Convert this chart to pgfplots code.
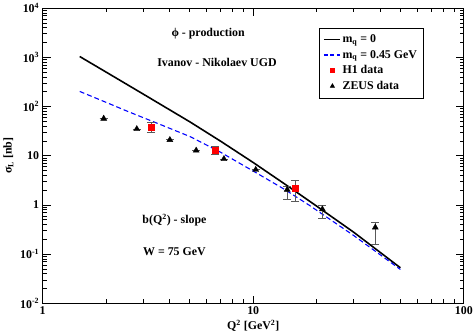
\documentclass[border=0pt]{standalone}
\usepackage{fontspec}
\setmainfont{Liberation Serif}
\usepackage{pgfplots}
\pgfplotsset{compat=1.18}

\begin{document}
\begin{tikzpicture}[font=\bfseries\fontsize{12}{14}\selectfont]
\begin{axis}[
    width=425pt, height=298pt, scale only axis,
    xmode=log, ymode=log,
    xmin=1, xmax=100, ymin=0.01, ymax=10000,
    xtick={1,10,100}, xticklabels={1,10,100},
    minor xtick={2,3,4,5,6,7,8,9,20,30,40,50,60,70,80,90},
    ytick={0.01,0.1,1,10,100,1000,10000},
    yticklabels={10\textsuperscript{-2},10\textsuperscript{-1},1,10,10\textsuperscript{2},10\textsuperscript{3},10\textsuperscript{4}},
    minor ytick={0.02,0.03,0.04,0.05,0.06,0.07,0.08,0.09,
                 0.2,0.3,0.4,0.5,0.6,0.7,0.8,0.9,
                 2,3,4,5,6,7,8,9,20,30,40,50,60,70,80,90,
                 200,300,400,500,600,700,800,900,
                 2000,3000,4000,5000,6000,7000,8000,9000},
    tick align=inside,
    major tick length=8pt, minor tick length=4pt,
    axis line style={line width=1.2pt},
    every tick/.style={black, line width=0.8pt},
    xlabel={Q\textsuperscript{2} [GeV\textsuperscript{2}]},
    ylabel={σ\textsubscript{L} [nb]},
    xlabel style={yshift=2pt},
    legend style={at={(rel axis cs:0.904,0.934)}, anchor=north east,
        draw=black, line width=0.8pt, inner xsep=4pt, inner ysep=5pt,
        row sep=2pt, font=\bfseries\fontsize{12}{14}\selectfont},
    legend cell align=left,
    clip=false,
]
\addplot[black, line width=1.6pt,
    legend image code/.code={\draw[black, line width=1.6pt] (0pt,0pt) -- (16pt,0pt);}]
coordinates {
    (1.5,1040) (2,503) (3,180) (5,49) (7,19.8) (10,7.3)
    (15.4,2.07) (20,0.95) (30,0.28) (50,0.053)
};
\addlegendentry{m\textsubscript{q} = 0}

\addplot[blue, line width=1.1pt, dash pattern=on 5pt off 3pt,
    legend image code/.code={\draw[blue, line width=1.1pt, dash pattern=on 4pt off 2.5pt] (0pt,0pt) -- (16pt,0pt);}]
coordinates {
    (1.5,203) (2,122) (2.53,80) (3.5,45.8) (5.03,24.4) (7,11.8)
    (10.35,4.49) (14,2.11) (18.45,0.99) (30,0.24) (50,0.049)
};
\addlegendentry{m\textsubscript{q} = 0.45 GeV}

\addplot[only marks, mark=square*, mark size=3pt, red,
    legend image post style={mark size=2pt},
    error bars/.cd, y dir=both, y explicit,
    error bar style={black!65, line width=1pt},
    error mark options={rotate=90, mark size=4pt, black!65, line width=1pt}]
coordinates {
    (3.28,37.8) += (0,9.9) -= (0,7.8)
    (6.59,12.8) += (0,2.6) -= (0,2.3)
    (15.8,2.24) += (0,0.94) -= (0,1.04)
};
\addlegendentry{H1 data}

\addplot[only marks, mark=triangle*, mark size=3.5pt, black,
    legend image post style={mark size=2.3pt},
    error bars/.cd, y dir=both, y explicit,
    error bar style={black!65, line width=1pt},
    error mark options={rotate=90, mark size=4pt, black!65, line width=1pt}]
coordinates {
    (1.95,57) += (0,0) -= (0,0)
    (2.8,35) += (0,0) -= (0,0)
    (4.02,21) += (0,0) -= (0,0)
    (5.36,12.8) += (0,0) -= (0,0)
    (7.26,8.6) += (0,0) -= (0,0)
    (10.28,5.2) += (0,0) -= (0,0)
    (14.5,2.05) += (0,0.3) -= (0,0.75)
    (21.3,0.82) += (0,0.18) -= (0,0.28)
    (38,0.35) += (0,0.09) -= (0,0.19)
};
\addlegendentry{ZEUS data}

\node at (rel axis cs:0.393,0.913) {ϕ - production};
\node at (rel axis cs:0.414,0.815) {Ivanov - Nikolaev UGD};
\node at (rel axis cs:0.313,0.282) {b(Q\textsuperscript{2}) - slope};
\node at (rel axis cs:0.313,0.1755) {W = 75 GeV};
\end{axis}
\end{tikzpicture}
\end{document}
